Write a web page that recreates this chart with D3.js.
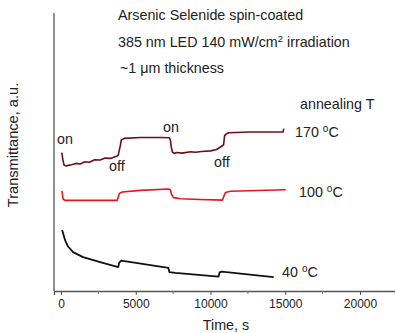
<!DOCTYPE html>
<html>
<head>
<meta charset="utf-8">
<script src="https://cdn.jsdelivr.net/npm/d3@7"></script>
<style>
  body { margin: 0; background: #fff; }
  svg { display: block; font-family: "Liberation Sans", Arial, sans-serif; }
</style>
</head>
<body>
<div id="chart"></div>
<script>
// data (time in s, transmittance in a.u.)
const time170 = [50, 130, 200, 340, 700, 1000, 1275, 1600, 1900, 2250, 2620, 2950, 3300, 3760, 3830, 3960, 4030, 4230, 5300, 6640, 7250, 7315, 7380, 7450, 7580, 7720, 8100, 8660, 9000, 9400, 10000, 10400, 10870, 10940, 11075, 11210, 12680, 14850, 14900];
const val170 = [49.8, 47.1, 45.3, 45.0, 45.4, 45.9, 45.7, 46.5, 46.3, 47.2, 47.1, 47.8, 47.7, 48.6, 48.9, 52.2, 54.3, 54.9, 55.2, 55.2, 55.1, 54.3, 51.6, 50.0, 49.5, 49.8, 49.6, 50.1, 49.9, 50.2, 50.4, 50.9, 52.5, 55.8, 56.6, 56.9, 57.2, 57.2, 58.4];

const time100 = [67, 134, 270, 2000, 3760, 3830, 3900, 4100, 5300, 7180, 7315, 7380, 7520, 8000, 9300, 10800, 10870, 11000, 11340, 15030];
const val100 = [36.0, 33.1, 32.6, 32.6, 32.6, 33.8, 35.1, 35.6, 36.2, 36.7, 36.4, 34.9, 33.6, 33.2, 32.9, 32.7, 33.8, 35.4, 35.9, 36.4];

const time40 = [67, 134, 268, 470, 805, 1476, 2617, 3825, 3892, 4027, 7181, 7248, 7650, 10536, 10603, 10738, 14227];
const val40 = [21.9, 20.9, 18.3, 16.0, 14.0, 12.2, 10.4, 8.6, 10.2, 10.9, 8.3, 6.8, 6.5, 5.2, 6.6, 7.0, 5.0];

const xTicks = [0, 5000, 10000, 15000, 20000];
const xMinorTicks = [2500, 7500, 12500, 17500];

const titleLines = ["Arsenic Selenide spin-coated", "385 nm LED 140 mW/cm", "~1 \u03bcm thickness"];

const width = 395, height = 333;
const fs = '14.3px';
const svg = d3.select('#chart').append('svg')
    .attr('width', width)
    .attr('height', height);

const x = d3.scaleLinear().domain([-470, 22340]).range([54, 395]);
const y = d3.scaleLinear().domain([0, 100]).range([291, 13]);

// axes
const xAxis = svg.append('g')
    .attr('transform', `translate(0, ${y(0)})`)
    .call(d3.axisBottom(x).tickValues(xTicks).tickSize(4).tickPadding(4).tickFormat(d3.format('d')));
xAxis.select('.domain').attr('stroke', '#555').attr('stroke-width', 1.3);
xAxis.selectAll('.tick line').attr('stroke', '#555');
xAxis.selectAll('.tick text')
    .style('font-size', '12px')
    .attr('fill', '#222')
    .attr('font-family', '"Liberation Sans", Arial, sans-serif');

svg.append('g')
    .attr('transform', `translate(0, ${y(0)})`)
    .selectAll('line').data(xMinorTicks).join('line')
    .attr('x1', d => x(d)).attr('x2', d => x(d))
    .attr('y1', 0).attr('y2', 3)
    .attr('stroke', '#777');

svg.append('line')
    .attr('x1', x.range()[0]).attr('x2', x.range()[0])
    .attr('y1', y(100)).attr('y2', y(0))
    .attr('stroke', '#555').attr('stroke-width', 1.3);

svg.append('text')
    .attr('x', 226).attr('y', 330)
    .attr('text-anchor', 'middle')
    .style('font-size', fs).attr('fill', '#222')
    .text('Time, s');

svg.append('text')
    .attr('transform', 'translate(18, 145) rotate(-90)')
    .attr('text-anchor', 'middle')
    .style('font-size', '14.6px').attr('fill', '#222')
    .text('Transmittance, a.u.');

// curves
const line = d3.line().x(d => x(d[0])).y(d => y(d[1]));

const series = [
    { t: time40, v: val40, color: '#111', w: 1.8 },
    { t: time100, v: val100, color: '#e2161c', w: 1.6 },
    { t: time170, v: val170, color: '#6e0f17', w: 1.6 }
];
series.forEach(s => {
    svg.append('path')
        .datum(s.t.map((t, i) => [t, s.v[i]]))
        .attr('d', line)
        .attr('fill', 'none')
        .attr('stroke', s.color)
        .attr('stroke-width', s.w)
        .attr('stroke-linejoin', 'round');
});

// annotations
const txt = (px, py, str) => svg.append('text')
    .attr('x', px).attr('y', py)
    .style('font-size', fs).attr('fill', '#222')
    .text(str);

txt(118, 20, titleLines[0]);
const l2 = txt(118, 47, titleLines[1]);
l2.append('tspan').attr('dy', -5).style('font-size', '9.5px').text('2');
l2.append('tspan').attr('dy', 5).text(' irradiation');
txt(120, 73, titleLines[2]);
txt(300, 109, 'annealing T');

txt(57, 144, 'on');
txt(163, 132, 'on');
txt(109, 171, 'off');
txt(214, 167, 'off');

const degLabel = (px, py, num) => {
    const t = txt(px, py, num + ' ');
    t.append('tspan').attr('dy', -5).style('font-size', '10px').text('o');
    t.append('tspan').attr('dy', 5).text('C');
};
degLabel(295, 137, '170');
degLabel(299, 197, '100');
degLabel(282, 277, '40');
</script>
</body>
</html>
